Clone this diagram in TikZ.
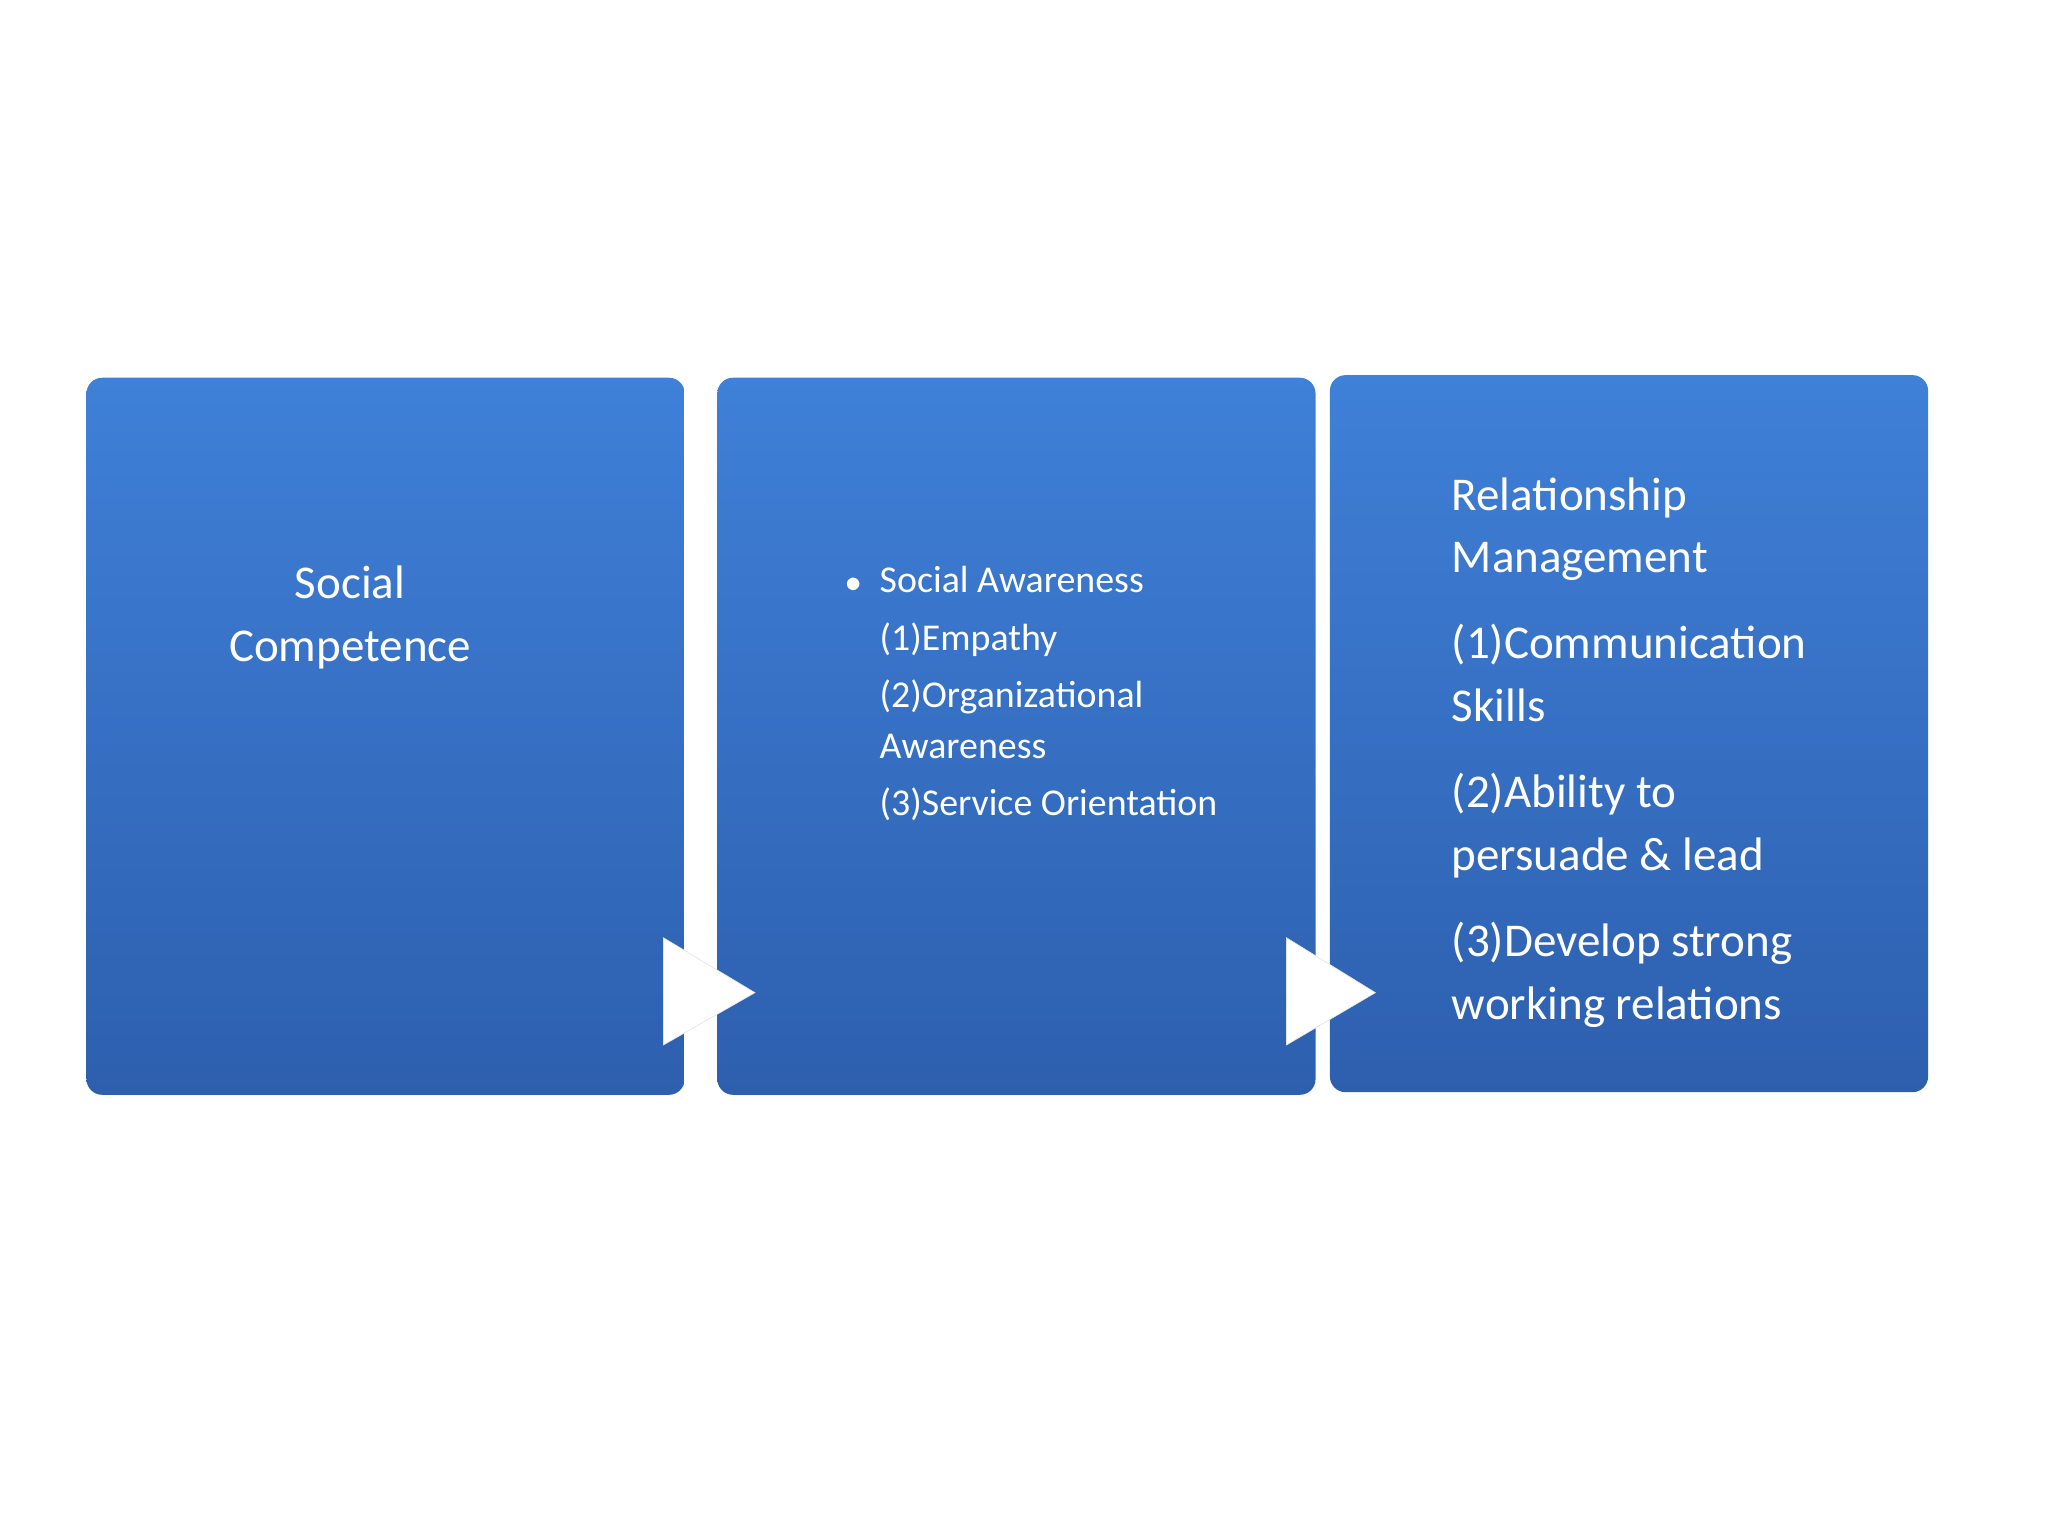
\documentclass[tikz,border=0pt]{standalone}
\usepackage{fontspec}
\setmainfont{Carlito}
\begin{document}
\begin{tikzpicture}[x=1pt,y=-1pt,
  panel/.style={draw=none,rounded corners=12pt,top color=blue1,bottom color=blue2,minimum width=458pt,minimum height=549pt,inner sep=0pt},
  arr/.style={fill=white,draw=gray!20,line width=0.5pt},
  txt/.style={text=white,font=\fontsize{36}{48}\selectfont,align=left,anchor=north west}]
\definecolor{blue1}{HTML}{3F80D8}
\definecolor{blue2}{HTML}{2D5FAE}
\useasboundingbox (0,0) rectangle (1568,1176);
\node[panel,anchor=north west] (b1) at (66,289) {};
\node[panel,anchor=north west] (b2) at (549,289) {};
\node[panel,anchor=north west] (b3) at (1018,287) {};
\draw[arr] (508,718) -- (578,760) -- (508,800) -- cycle;
\draw[arr] (985,718) -- (1053,760) -- (985,800) -- cycle;
\node[txt,align=center,anchor=north] (t1) at (268,430) {Social\\Competence};
\node[txt,font=\fontsize{29}{39}\selectfont,anchor=north west] (t2) at (670,430)
 {\llap{$\bullet$\hspace{14pt}}Social Awareness\\[5pt](1)Empathy\\[5pt](2)Organizational\\Awareness\\[5pt](3)Service Orientation};
\node[txt,anchor=north west] (t3) at (1108,362)
 {Relationship\\Management\\[18pt](1)Communication\\Skills\\[18pt](2)Ability to\\persuade \& lead\\[18pt](3)Develop strong\\working relations};
\end{tikzpicture}
\end{document}
